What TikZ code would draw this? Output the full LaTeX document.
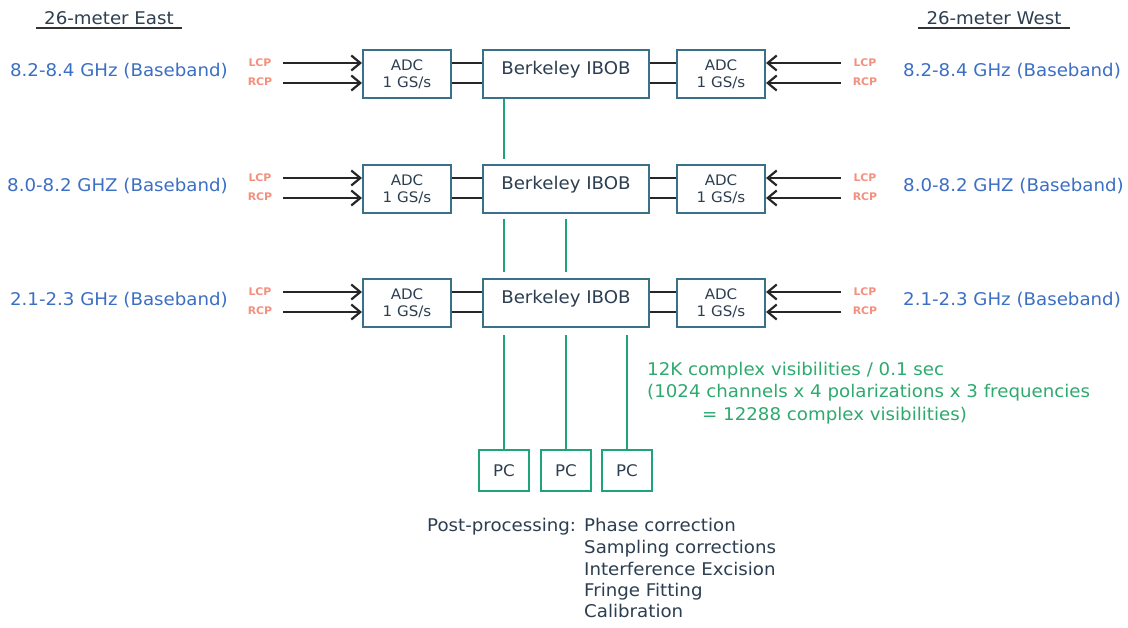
\documentclass[tikz,border=0pt]{standalone}
\usepackage{fontspec}
\setmainfont{DejaVu Sans}[FakeStretch=1.04]
\usetikzlibrary{arrows.meta,calc}
\definecolor{bandblue}{HTML}{3B6FC4}
\definecolor{inkdark}{HTML}{2C3E50}
\definecolor{boxedge}{HTML}{3A7088}
\definecolor{linegreen}{HTML}{1FA37A}
\definecolor{textgreen}{HTML}{2EAA6E}
\definecolor{polred}{HTML}{F5907E}
\begin{document}
\begin{tikzpicture}[x=1pt,y=-1pt,
 box/.style={draw=boxedge,line width=2pt,fill=white,inner sep=0pt,align=center,text=inkdark},
 adcbox/.style={box,minimum width=88pt,minimum height=48pt,font=\fontsize{14.5}{17}\selectfont},
 ibobbox/.style={box,minimum width=166pt,minimum height=48pt,font=\fontsize{17.5}{20}\selectfont,text height=12.8pt,text depth=11pt},
 pcbox/.style={box,draw=linegreen,line width=2.5pt,minimum width=50pt,minimum height=41pt,font=\fontsize{16}{18}\selectfont},
 band/.style={text=bandblue,font=\fontsize{17.5}{20}\selectfont,inner sep=0pt},
 pol/.style={text=polred,font=\bfseries\fontsize{10.5}{11}\selectfont,inner sep=0pt},
 feed/.style={draw=black!85,line width=2.2pt,-{Straight Barb[length=9pt,width=15pt]}},
 link/.style={draw=black!85,line width=2.2pt},
 bus/.style={draw=linegreen,line width=2.5pt},
 note/.style={text=textgreen,font=\fontsize{17.5}{20}\selectfont,inner sep=0pt,anchor=west,text height=12.8pt,text depth=3.8pt},
 post/.style={text=inkdark,font=\fontsize{17.5}{20}\selectfont,inner sep=0pt,anchor=west,text height=12.8pt,text depth=3.8pt},
 hdr/.style={text=inkdark,font=\fontsize{17.5}{20}\selectfont,inner xsep=8pt,inner ysep=3.5pt,text depth=0pt,anchor=base}
]
\path[use as bounding box,fill=white] (0,0) rectangle (1128,627);

% headers
\node[hdr] (hdrE) at (109,24.5) {26-meter East};
\node[hdr] (hdrW) at (994,24.5) {26-meter West};
\draw[line width=1.5pt,black!80] (hdrE.south west) -- (hdrE.south east);
\draw[line width=1.5pt,black!80] (hdrW.south west) -- (hdrW.south east);

% rows
\foreach \r/\yc/\lab/\rlab in {1/74/{8.2-8.4 GHz (Baseband)}/{8.2-8.4 GHz (Baseband)},
                               2/189/{8.0-8.2 GHZ (Baseband)}/{8.0-8.2 GHZ (Baseband)},
                               3/303/{2.1-2.3 GHz (Baseband)}/{2.1-2.3 GHz (Baseband)}}{
  \node[adcbox] (adcL\r) at (407,\yc) {ADC\\1 GS/s};
  \node[ibobbox] (ibob\r) at (566,\yc) {Berkeley IBOB};
  \node[adcbox] (adcR\r) at (721,\yc) {ADC\\1 GS/s};
  \node[band,anchor=east] (bandL\r) at (228,\yc-2.5) {\lab};
  \node[band,anchor=west] (bandR\r) at (903,\yc-3) {\rlab};
  \node[pol] (lcpL\r) at (260,\yc-11) {LCP};
  \node[pol] (rcpL\r) at (260,\yc+8) {RCP};
  \node[pol] (lcpR\r) at (865,\yc-11) {LCP};
  \node[pol] (rcpR\r) at (865,\yc+8) {RCP};
  \coordinate (inLa\r) at (283,\yc-11);
  \coordinate (inLb\r) at (283,\yc+9);
  \coordinate (inRa\r) at (841,\yc-11);
  \coordinate (inRb\r) at (841,\yc+9);
  \draw[feed] (inLa\r) -- (inLa\r -| adcL\r.west);
  \draw[feed] (inLb\r) -- (inLb\r -| adcL\r.west);
  \draw[feed] (inRa\r) -- (inRa\r -| adcR\r.east);
  \draw[feed] (inRb\r) -- (inRb\r -| adcR\r.east);
  \draw[link] (inLa\r -| adcL\r.east) -- (inLa\r -| ibob\r.west);
  \draw[link] (inLb\r -| adcL\r.east) -- (inLb\r -| ibob\r.west);
  \draw[link] (inRa\r -| ibob\r.east) -- (inRa\r -| adcR\r.west);
  \draw[link] (inRb\r -| ibob\r.east) -- (inRb\r -| adcR\r.west);
}

% PCs
\node[pcbox] (pc1) at (504,470.5) {PC};
\node[pcbox] (pc2) at (566,470.5) {PC};
\node[pcbox] (pc3) at (627,470.5) {PC};

% green buses
\draw[bus,shorten >=5pt] (pc1.north |- ibob1.south) -- (pc1.north |- ibob2.north);
\draw[bus,shorten >=6pt,shorten <=5pt] (pc1.north |- ibob2.south) -- (pc1.north |- ibob3.north);
\draw[bus,shorten >=6pt,shorten <=5pt] (pc2.north |- ibob2.south) -- (pc2.north |- ibob3.north);
\draw[bus,shorten <=7pt] (pc1.north |- ibob3.south) -- (pc1.north);
\draw[bus,shorten <=7pt] (pc2.north |- ibob3.south) -- (pc2.north);
\draw[bus,shorten <=7pt] (pc3.north |- ibob3.south) -- (pc3.north);

% note
\node[note] (n1) at (647,371) {12K complex visibilities / 0.1 sec};
\node[note] (n2) at (647,393) {(1024 channels x 4 polarizations x 3 frequencies};
\node[note] (n3) at (702,416) {= 12288 complex visibilities)};

% post-processing
\node[post] (pp) at (427,527) {Post-processing:};
\node[post] (p1) at (584,527) {Phase correction};
\node[post] (p2) at (584,549) {Sampling corrections};
\node[post] (p3) at (584,571) {Interference Excision};
\node[post] (p4) at (584,592) {Fringe Fitting};
\node[post] (p5) at (584,613) {Calibration};
\end{tikzpicture}
\end{document}
